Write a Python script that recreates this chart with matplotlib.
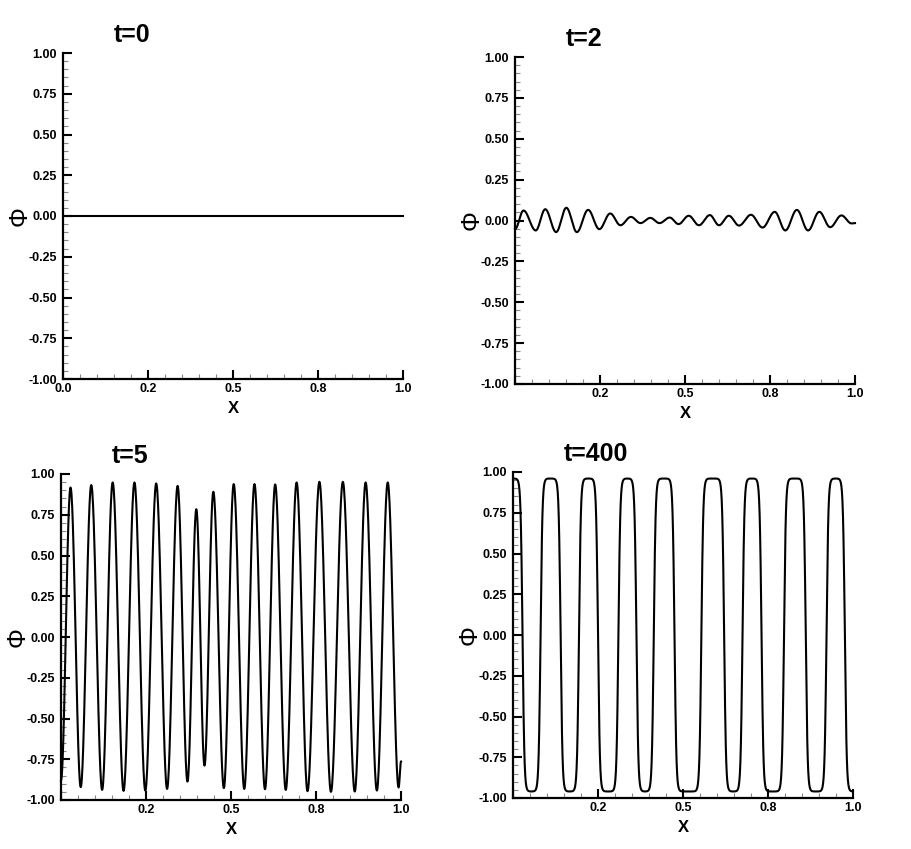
import numpy as np
import matplotlib
matplotlib.use("Agg")
from matplotlib import pyplot as plt
from matplotlib.ticker import MultipleLocator

plt.rcParams["font.family"] = ["Liberation Sans", "DejaVu Sans"]

# tick marks and labels
x_ticks = [0.0, 0.25, 0.5, 0.75, 1.0]
x_tick_labels = ["0.0", "0.2", "0.5", "0.8", "1.0"]
y_ticks = [-1.0, -0.75, -0.5, -0.25, 0.0, 0.25, 0.5, 0.75, 1.0]
y_tick_labels = ["-1.00", "-0.75", "-0.50", "-0.25", "0.00", "0.25", "0.50", "0.75", "1.00"]
titles = ["t=0", "t=2", "t=5", "t=400"]

# t=0 : flat
t0_x = [0.0, 1.0]
t0_y = [0.0, 0.0]

# t=2 : successive extrema
t2_x = [0.0, 0.025, 0.061, 0.089, 0.121, 0.151, 0.182, 0.215, 0.248, 0.280,
        0.310, 0.341, 0.369, 0.398, 0.425, 0.455, 0.481, 0.511, 0.541, 0.573,
        0.600, 0.629, 0.659, 0.694, 0.728, 0.764, 0.795, 0.829, 0.862, 0.895,
        0.927, 0.960, 0.990, 1.0]
t2_y = [-0.053, 0.061, -0.061, 0.069, -0.071, 0.078, -0.071, 0.065, -0.053, 0.043,
        -0.029, 0.022, -0.016, 0.016, -0.016, 0.018, -0.022, 0.029, -0.029, 0.033,
        -0.029, 0.029, -0.031, 0.035, -0.043, 0.053, -0.061, 0.065, -0.061, 0.053,
        -0.041, 0.031, -0.018, -0.016]

# t=5 : successive extrema
t5_x = [0.0, 0.028, 0.058, 0.089, 0.121, 0.152, 0.184, 0.216, 0.248, 0.280,
        0.312, 0.343, 0.372, 0.398, 0.422, 0.448, 0.479, 0.508, 0.539, 0.569,
        0.600, 0.630, 0.661, 0.693, 0.725, 0.760, 0.794, 0.829, 0.864, 0.896,
        0.929, 0.961, 0.993, 1.0]
t5_y = [-0.88, 0.917, -0.921, 0.932, -0.938, 0.948, -0.944, 0.948, -0.942, 0.942,
        -0.932, 0.927, -0.887, 0.784, -0.789, 0.891, -0.927, 0.938, -0.932, 0.938,
        -0.934, 0.936, -0.938, 0.948, -0.946, 0.952, -0.950, 0.952, -0.948, 0.948,
        -0.942, 0.948, -0.923, -0.764]

# t=400 : interface positions (zero crossings), direction and plateau level
t400_cross = [0.028, 0.081, 0.140, 0.194, 0.250, 0.310, 0.363, 0.414, 0.475,
              0.554, 0.621, 0.675, 0.731, 0.797, 0.861, 0.922, 0.976]
t400_dir = [-1, 1, -1, 1, -1, 1, -1, 1, -1, 1, -1, 1, -1, 1, -1, 1, -1]
t400_level = 0.96
t400_width = 0.0055


def through_extrema(xe, ye, n=30):
    xs, ys = [], []
    for i in range(len(xe) - 1):
        s = np.linspace(0, 1, n, endpoint=False)
        xs.append(xe[i] + (xe[i + 1] - xe[i]) * s)
        ys.append(ye[i] + (ye[i + 1] - ye[i]) * (1 - np.cos(np.pi * s)) / 2)
    xs.append([xe[-1]])
    ys.append([ye[-1]])
    return np.concatenate(xs), np.concatenate(ys)


def interfaces(cross, dirs, level, w):
    x = np.linspace(0, 1, 2000)
    c = np.array(cross)
    d = np.array(dirs)
    idx = np.abs(x[:, None] - c[None, :]).argmin(axis=1)
    y = level * d[idx] * np.tanh((x - c[idx]) / w)
    return x, y


curves = [
    (np.array(t0_x), np.array(t0_y)),
    through_extrema(t2_x, t2_y),
    through_extrema(t5_x, t5_y),
    interfaces(t400_cross, t400_dir, t400_level, t400_width),
]

W, H = 911, 849
# axes boxes in pixels: left, top, right, bottom
boxes = [(63, 53, 403, 379), (515, 57, 855, 384), (61, 474, 401, 800), (513, 472, 853, 798)]

fig = plt.figure(figsize=(W / 100, H / 100), dpi=100)

for k, (l, t, r, b) in enumerate(boxes):
    ax = fig.add_axes([l / W, 1 - b / H, (r - l) / W, (b - t) / H])
    xs, ys = curves[k]
    ax.plot(xs, ys, color="black", lw=1.5, clip_on=False)
    ax.set_xlim(0, 1)
    ax.set_ylim(-1, 1)
    for s in ["top", "right"]:
        ax.spines[s].set_visible(False)
    for s in ["left", "bottom"]:
        ax.spines[s].set_linewidth(1.6)
    ax.set_xticks(x_ticks)
    lbls = list(x_tick_labels)
    if k > 0:
        lbls[0] = ""
    ax.set_xticklabels(lbls, fontweight="bold", fontsize=9)
    ax.set_yticks(y_ticks)
    ax.set_yticklabels(y_tick_labels, fontweight="bold", fontsize=9)
    ax.xaxis.set_minor_locator(MultipleLocator(0.05))
    ax.yaxis.set_minor_locator(MultipleLocator(0.05))
    ax.tick_params(which="major", direction="in", length=6.5, width=1.5)
    ax.tick_params(which="minor", direction="in", length=3.5, width=0.8, color="#888888")
    ax.tick_params(axis="x", which="major", pad=3)
    ax.tick_params(axis="y", which="major", pad=4.5)
    ax.set_xlabel("X", fontsize=12, fontweight="bold")
    ax.xaxis.set_label_coords(0.5, -0.066)
    ax.set_ylabel("\u03a6", fontsize=18, va="center")
    ax.yaxis.set_label_coords(-0.128, 0.5)
    ax.text(0.15, 1.055, titles[k], transform=ax.transAxes, fontsize=18,
            fontweight="bold", ha="left", va="center")

fig.savefig("out.png", dpi=100)
